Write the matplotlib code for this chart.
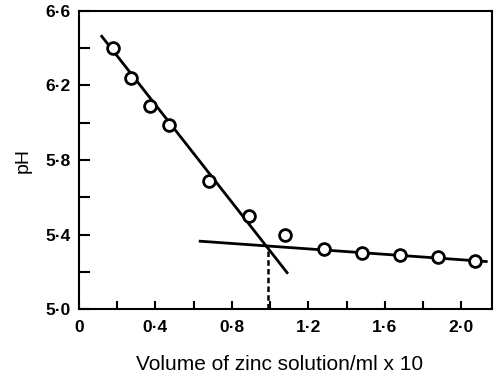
import matplotlib
matplotlib.use("Agg")
import matplotlib.pyplot as plt
from matplotlib.ticker import FixedLocator, FixedFormatter

# Titration readings
volume = [0.18, 0.27, 0.37, 0.47, 0.68, 0.89, 1.08, 1.28, 1.48, 1.68, 1.88, 2.07]
ph = [6.40, 6.24, 6.09, 5.99, 5.69, 5.50, 5.40, 5.32, 5.30, 5.29, 5.28, 5.26]

# Fitted straight lines (end points)
fit1_x = [0.115, 1.093]
fit1_y = [6.47, 5.19]
fit2_x = [0.627, 2.137]
fit2_y = [5.365, 5.255]

# End point
end_x = 0.99
end_y = 5.335

x_major = [0, 0.4, 0.8, 1.2, 1.6, 2.0]
x_labels = ["0", "0·4", "0·8", "1·2", "1·6", "2·0"]
x_minor = [0.2, 0.6, 1.0, 1.4, 1.8]
y_major = [5.0, 5.4, 5.8, 6.2, 6.6]
y_labels = ["5·0", "5·4", "5·8", "6·2", "6·6"]
y_minor = [5.2, 5.6, 6.0, 6.4]

plt.rcParams["font.family"] = ["Liberation Sans", "DejaVu Sans"]

fig = plt.figure(figsize=(4.96, 3.77), dpi=100)
ax = fig.add_axes([0.159, 0.180, 0.833, 0.791])

ax.plot(fit1_x, fit1_y, color="black", lw=2.0, solid_capstyle="butt")
ax.plot(fit2_x, fit2_y, color="black", lw=2.0, solid_capstyle="butt")
ax.plot([end_x, end_x], [5.0, end_y], color="black", lw=1.8, ls=(0, (2.2, 1.3)))
ax.plot(volume, ph, ls="none", marker="o", ms=8.5, mfc="white", mec="black", mew=2.0, zorder=5)

ax.set_xlim(0, 2.16)
ax.set_ylim(5.0, 6.6)

ax.xaxis.set_major_locator(FixedLocator(x_major))
ax.xaxis.set_major_formatter(FixedFormatter(x_labels))
ax.xaxis.set_minor_locator(FixedLocator(x_minor))
ax.yaxis.set_major_locator(FixedLocator(y_major))
ax.yaxis.set_major_formatter(FixedFormatter(y_labels))
ax.yaxis.set_minor_locator(FixedLocator(y_minor))

ax.tick_params(axis="both", which="both", direction="in", width=1.5,
               top=False, right=False, labelsize=12.5)
ax.tick_params(axis="y", which="both", length=8, pad=6)
ax.tick_params(axis="x", which="both", length=5.5, pad=8)
for lab in ax.get_xticklabels() + ax.get_yticklabels():
    lab.set_fontweight("bold")

for sp in ax.spines.values():
    sp.set_linewidth(1.5)

ax.set_xlabel("Volume of zinc solution/ml x 10", fontsize=15)
ax.xaxis.set_label_coords(0.486, -0.155)
ax.set_ylabel("pH", fontsize=14, labelpad=10)

fig.savefig("out.png", dpi=100)
